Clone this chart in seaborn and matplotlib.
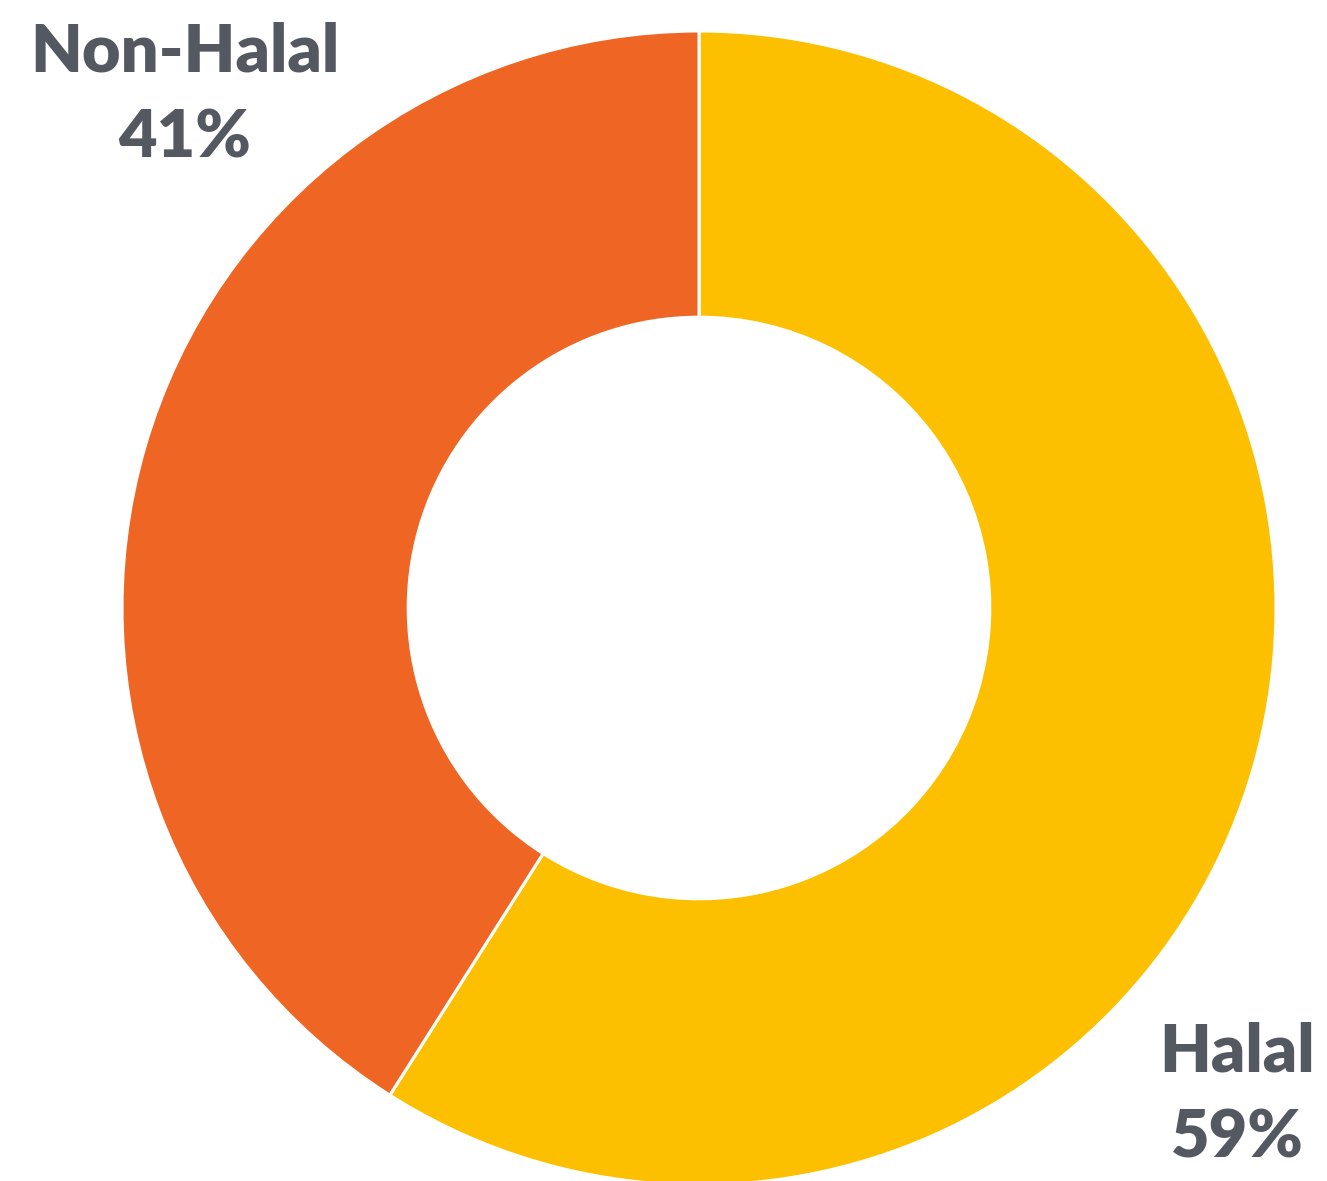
import matplotlib
matplotlib.use("Agg")
import matplotlib.pyplot as plt
import seaborn as sns

categories = ["Halal", "Non-Halal"]
shares = [59, 41]
colors = ["#FDC000", "#EF6524"]

sns.set_theme(style="white")
plt.rcParams["font.family"] = ["Lato", "DejaVu Sans"]

W, H = 1327, 1181
fig = plt.figure(figsize=(W / 100, H / 100), dpi=100)
cx, cy, r = 699, 608, 577
ax = fig.add_axes([(cx - r) / W, (H - cy - r) / H, 2 * r / W, 2 * r / H])

palette = sns.color_palette(colors)
ax.pie(
    shares,
    colors=palette,
    startangle=90,
    counterclock=False,
    radius=1.0,
    wedgeprops=dict(width=0.496, edgecolor="white", linewidth=2.2),
)
ax.set_xlim(-1, 1)
ax.set_ylim(-1, 1)
ax.axis("off")

text_color = "#545961"
label_kw = dict(color=text_color, fontsize=48, fontweight="heavy",
                ha="center", va="baseline", linespacing=1.5)
fig.text(185 / W, 1 - 157 / H, f"{categories[1]}\n{shares[1]}%", **label_kw)
fig.text(1237 / W, 1 - 1157 / H, f"{categories[0]}\n{shares[0]}%", **label_kw)

fig.savefig("out.png", dpi=100, facecolor="white")
